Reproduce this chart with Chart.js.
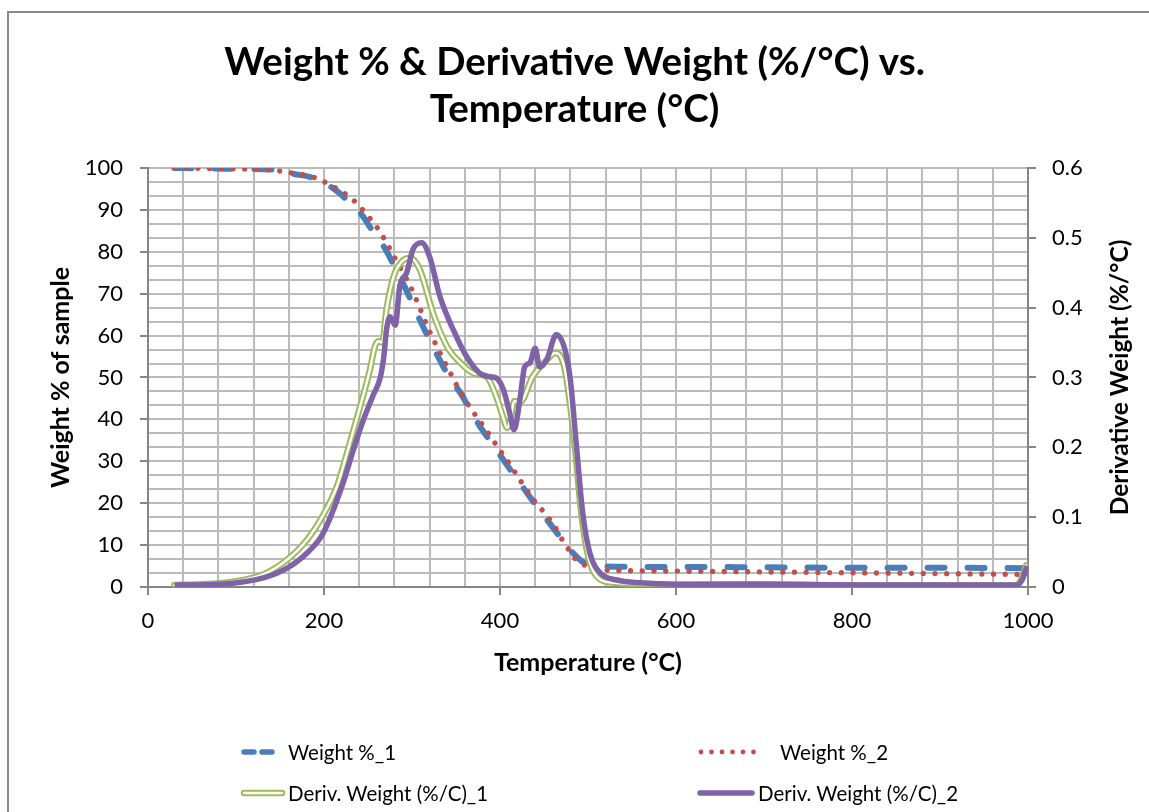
<!DOCTYPE html>
<html>
<head>
<meta charset="utf-8">
<script src="https://cdn.jsdelivr.net/npm/chart.js@4.4.0/dist/chart.umd.min.js"></script>
<style>
  body { margin: 0; background: #fff; overflow: hidden; font-family: Lato, sans-serif; }
  #frame { position: absolute; left: 7px; top: 11px; width: 1300px; height: 900px;
           border-left: 2px solid #898989; border-top: 2px solid #898989; }
  #chart { position: absolute; left: 0; top: 0; }
  .item { position: absolute; display: flex; align-items: center; font-size: 20.5px; color: #000; white-space: nowrap; }
  .item canvas { display: block; }
</style>
</head>
<body>
<div id="frame"></div>
<canvas id="chart" width="1149" height="812"></canvas>
<div id="legend"></div>
<script>
// Temperature (°C) and values
const weight1Temp = [30, 60, 100, 140, 165, 188, 210, 226, 243, 256, 269, 280, 292, 305, 317, 330, 342, 355, 366, 377, 390, 405, 420, 435, 450, 464, 475, 483, 494, 505, 520, 560, 600, 700, 800, 900, 995];
const weight1 = [100, 99.9, 99.8, 99.6, 98.6, 97.6, 95.2, 92.4, 88.8, 84.7, 80.9, 76.5, 71.5, 65.5, 60.2, 54.8, 50.2, 46.3, 42.3, 38.4, 34.5, 30, 25.6, 21.2, 17, 13.1, 10.2, 8.1, 6, 5.2, 4.9, 4.8, 4.8, 4.7, 4.6, 4.6, 4.5];

const weight2Temp = [30, 60, 100, 140, 160, 188, 210, 233, 250, 260, 274, 286, 299, 309, 319, 332, 343, 352, 366, 375, 389, 400, 412, 425, 439, 451, 459, 466, 472, 480, 487, 499, 510, 525, 600, 700, 800, 900, 997];
const weight2 = [100, 99.9, 99.8, 99.5, 98.9, 97.8, 95.6, 92.4, 88.5, 85.9, 81, 76.4, 71.4, 66.5, 61.5, 55.8, 51.3, 47.7, 42.8, 40.2, 36, 32.6, 29, 24.8, 20.6, 17.6, 15.4, 13.1, 10.8, 8.4, 6.4, 5.0, 4.3, 4.0, 3.8, 3.6, 3.4, 3.2, 3.0];

const deriv1Temp = [30, 60, 93, 131, 158, 181, 200, 215, 228, 241, 252, 258, 262, 266, 271, 279, 290, 298, 309, 324, 340, 355, 370, 385, 396, 403, 408, 412, 416, 423, 437, 453, 463, 468, 474, 480, 486, 492, 500, 510, 530, 600, 700, 800, 900, 985, 992, 998];
const deriv1 = [0.003, 0.004, 0.007, 0.018, 0.039, 0.068, 0.105, 0.145, 0.2, 0.258, 0.31, 0.345, 0.352, 0.35, 0.397, 0.444, 0.468, 0.471, 0.454, 0.392, 0.344, 0.321, 0.306, 0.301, 0.272, 0.245, 0.228, 0.24, 0.266, 0.265, 0.301, 0.325, 0.335, 0.332, 0.31, 0.258, 0.19, 0.11, 0.045, 0.015, 0.006, 0.003, 0.004, 0.002, 0.002, 0.002, 0.01, 0.031];

const deriv2Temp = [33, 60, 93, 131, 158, 181, 199, 222, 233, 245, 256, 264, 268, 271, 275, 281, 286, 294, 301, 311, 320, 332, 347, 362, 377, 389, 396, 404, 411, 416, 423, 428, 434, 440, 445, 453, 464, 474, 480, 487, 494, 502, 514, 533, 559, 600, 700, 800, 900, 988, 994, 998];
const deriv2 = [0.003, 0.003, 0.005, 0.013, 0.027, 0.049, 0.077, 0.15, 0.195, 0.24, 0.275, 0.30, 0.33, 0.368, 0.387, 0.375, 0.43, 0.45, 0.483, 0.493, 0.473, 0.415, 0.368, 0.33, 0.306, 0.301, 0.299, 0.282, 0.249, 0.225, 0.272, 0.315, 0.321, 0.342, 0.315, 0.325, 0.361, 0.339, 0.296, 0.2, 0.106, 0.049, 0.02, 0.01, 0.006, 0.004, 0.004, 0.003, 0.003, 0.003, 0.012, 0.027];

// tick labels
const xTickLabels = [0, 200, 400, 600, 800, 1000];
const yTickLabels = [0, 10, 20, 30, 40, 50, 60, 70, 80, 90, 100];
const y2TickLabels = [0, 0.1, 0.2, 0.3, 0.4, 0.5, 0.6];

const toPoints = (xs, ys) => xs.map((x, i) => ({ x: x, y: ys[i] }));

const gridColor = "#bbbbbb";
const axisColor = "#868686";
const tickFont = { family: "Lato", size: 22 };
const axisTitleFont = { family: "Lato", size: 25, weight: "bold", lineHeight: 1.2 };

// right axis title reads bottom-to-top, so draw it ourselves
const rightTitle = {
  id: "rightTitle",
  afterDraw(chart) {
    const s = chart.scales.y2;
    const ctx = chart.ctx;
    ctx.save();
    ctx.translate(s.right - 29, (s.top + s.bottom) / 2);
    ctx.rotate(-Math.PI / 2);
    ctx.font = "bold 24.5px Lato";
    ctx.fillStyle = "#000";
    ctx.textAlign = "center";
    ctx.textBaseline = "middle";
    ctx.fillText("Derivative Weight (%/°C)", 0, 0);
    ctx.restore();
  },
};

const line = { pointRadius: 0, fill: false, cubicInterpolationMode: "monotone", borderCapStyle: "round", borderJoinStyle: "round" };

new Chart(document.getElementById("chart").getContext("2d"), {
  type: "line",
  data: {
    datasets: [
      Object.assign({ label: "Deriv. Weight (%/C)_2", data: toPoints(deriv2Temp, deriv2), yAxisID: "y2", borderColor: "#7f62a8", borderWidth: 5.5 }, line),
      // white core of the double line
      Object.assign({ label: "core", data: toPoints(deriv1Temp, deriv1), yAxisID: "y2", borderColor: "#ffffff", borderWidth: 2.5 }, line),
      Object.assign({ label: "Deriv. Weight (%/C)_1", data: toPoints(deriv1Temp, deriv1), yAxisID: "y2", borderColor: "#9bbb59", borderWidth: 6.5 }, line),
      Object.assign({ label: "Weight %_2", data: toPoints(weight2Temp, weight2), yAxisID: "y", borderColor: "#c0504d", borderWidth: 5.3, borderDash: [0.01, 11.7] }, line),
      Object.assign({ label: "Weight %_1", data: toPoints(weight1Temp, weight1), yAxisID: "y", borderColor: "#4a7ebb", borderWidth: 6, borderDash: [17, 23] }, line),
    ],
  },
  options: {
    responsive: false,
    animation: false,
    layout: { padding: { left: 0, right: 0, top: 0, bottom: 125 } },
    plugins: {
      legend: { display: false },
      tooltip: { enabled: false },
      title: {
        display: true,
        text: ["Weight % & Derivative Weight (%/°C) vs.", "Temperature (°C)"],
        color: "#000",
        font: { family: "Lato", size: 38.5, weight: "bold", lineHeight: 1.22 },
        padding: { top: 39.5, bottom: 34.5 },
      },
    },
    scales: {
      x: {
        type: "linear",
        min: 0,
        max: 1000,
        ticks: {
          stepSize: 40,
          autoSkip: false,
          maxRotation: 0,
          color: "#000",
          font: tickFont,
          padding: 13,
          callback: (v) => (xTickLabels.includes(v) ? String(v) : ""),
        },
        grid: {
          color: gridColor,
          lineWidth: 2,
          tickLength: 8,
          tickColor: (c) => (c.tick && xTickLabels.includes(c.tick.value) ? axisColor : "rgba(0,0,0,0)"),
        },
        border: { color: axisColor, width: 2 },
        title: { display: true, text: "Temperature (°C)", color: "#000", font: axisTitleFont, padding: { bottom: 9 } },
        afterFit: (s) => { s.height = 100; },
      },
      y: {
        position: "left",
        min: 0,
        max: 100,
        ticks: {
          stepSize: 10,
          color: "#000",
          font: tickFont,
          padding: 17,
          callback: (v) => (yTickLabels.includes(v) ? String(v) : ""),
        },
        grid: { drawOnChartArea: false, tickLength: 8, tickColor: axisColor, lineWidth: 2 },
        border: { color: axisColor, width: 2 },
        title: { display: true, text: "Weight % of sample", color: "#000", font: axisTitleFont, padding: { top: 46 } },
        afterFit: (s) => { s.width = 148; },
      },
      y2: {
        position: "right",
        min: 0,
        max: 0.6,
        ticks: {
          stepSize: 0.02,
          autoSkip: false,
          color: "#000",
          font: tickFont,
          padding: 16,
          callback: (v) => {
            const lab = y2TickLabels.find((t) => Math.abs(t - v) < 1e-9);
            return lab === undefined ? "" : String(lab);
          },
        },
        grid: {
          color: gridColor,
          lineWidth: 2,
          tickLength: 8,
          tickColor: (c) => (c.tick && y2TickLabels.some((t) => Math.abs(t - c.tick.value) < 1e-9) ? axisColor : "rgba(0,0,0,0)"),
        },
        border: { color: axisColor, width: 2 },
        afterFit: (s) => { s.width = 121; },
      },
    },
  },
  plugins: [rightTitle],
});

// legend drawn as html with small line samples
function sample(kind) {
  const c = document.createElement("canvas");
  c.width = kind === "dots" ? 62 : kind === "dash" ? 36 : kind === "solid" ? 60 : 46;
  c.height = 14;
  const g = c.getContext("2d");
  g.lineCap = "round";
  const y = 7;
  if (kind === "dash") {
    g.strokeStyle = "#4a7ebb"; g.lineWidth = 5.5;
    g.beginPath(); g.moveTo(4, y); g.lineTo(14, y); g.moveTo(22, y); g.lineTo(32, y); g.stroke();
  } else if (kind === "dots") {
    g.fillStyle = "#c0504d";
    for (let i = 0; i < 6; i++) { g.beginPath(); g.arc(4 + i * 10.5, y, 2.4, 0, Math.PI * 2); g.fill(); }
  } else if (kind === "double") {
    g.strokeStyle = "#9bbb59"; g.lineWidth = 6.5;
    g.beginPath(); g.moveTo(4, y); g.lineTo(42, y); g.stroke();
    g.strokeStyle = "#fff"; g.lineWidth = 2.5;
    g.beginPath(); g.moveTo(4, y); g.lineTo(42, y); g.stroke();
  } else {
    g.strokeStyle = "#7f62a8"; g.lineWidth = 5.5;
    g.beginPath(); g.moveTo(4, y); g.lineTo(56, y); g.stroke();
  }
  return c;
}

const legendItems = [
  { text: "Weight %_1", kind: "dash", x: 240, y: 752, gap: 12 },
  { text: "Weight %_2", kind: "dots", x: 697, y: 752, gap: 21 },
  { text: "Deriv. Weight (%/C)_1", kind: "double", x: 240, y: 793, gap: 2 },
  { text: "Deriv. Weight (%/C)_2", kind: "solid", x: 696, y: 793, gap: 2 },
];
const legend = document.getElementById("legend");
legendItems.forEach((it) => {
  const d = document.createElement("div");
  d.className = "item";
  d.style.left = it.x + "px";
  d.style.top = it.y - 14 + "px";
  d.style.height = "28px";
  const s = sample(it.kind);
  s.style.marginRight = it.gap + "px";
  d.appendChild(s);
  const t = document.createElement("span");
  t.textContent = it.text;
  d.appendChild(t);
  legend.appendChild(d);
});
</script>
</body>
</html>
